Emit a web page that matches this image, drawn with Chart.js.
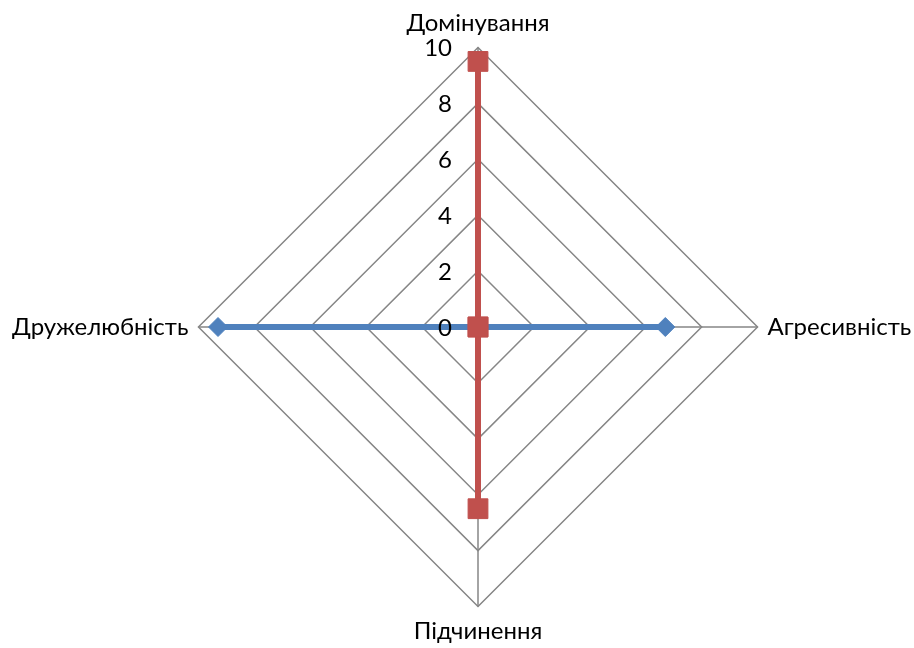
<!DOCTYPE html>
<html>
<head>
<meta charset="utf-8">
<script src="https://cdn.jsdelivr.net/npm/chart.js@4"></script>
<style>
  html, body { margin: 0; padding: 0; background: #ffffff; }
  #wrap { width: 914px; height: 648px; position: relative; overflow: hidden; }
  /* canvas a bit wider than the page so the radar fills it like the original */
  #chart { position: absolute; left: -4px; top: 3px; }
</style>
</head>
<body>
<div id="wrap"><canvas id="chart" width="932" height="648"></canvas></div>
<script>
const axisLabels = ['Домінування', 'Агресивність', 'Підчинення', 'Дружелюбність'];
const blueValues = [0, 6.7, 0, 9.3];
const redValues = [9.5, 0, 6.5, 0];
const tickValues = [0, 2, 4, 6, 8, 10];

const FONT = 'Lato, "Open Sans", sans-serif';

// tick labels sit left of the vertical axis, like the original
const sideTicks = {
  id: 'sideTicks',
  afterDatasetsDraw(chart) {
    const scale = chart.scales.r;
    const ctx = chart.ctx;
    ctx.save();
    ctx.font = `24px ${FONT}`;
    ctx.fillStyle = '#000000';
    ctx.textAlign = 'right';
    ctx.textBaseline = 'middle';
    tickValues.forEach((value) => {
      const y = scale.yCenter - scale.getDistanceFromCenterForValue(value);
      ctx.fillText(String(value), scale.xCenter - 26, y + 1);
    });
    ctx.restore();
  }
};

new Chart(document.getElementById('chart'), {
  type: 'radar',
  data: {
    labels: axisLabels,
    datasets: [
      {
        label: 'Ряд1',
        data: blueValues,
        borderColor: '#4F81BD',
        backgroundColor: '#4F81BD',
        borderWidth: 6,
        fill: false,
        pointStyle: 'rectRot',
        pointRadius: 9.5,
        pointBorderWidth: 1,
        pointBorderColor: '#4F81BD',
        pointBackgroundColor: '#4F81BD',
        order: 2
      },
      {
        label: 'Ряд2',
        data: redValues,
        borderColor: '#C0504D',
        backgroundColor: '#C0504D',
        borderWidth: 6,
        fill: false,
        pointStyle: 'rect',
        pointRadius: 14,
        pointBorderWidth: 1,
        pointBorderColor: '#C0504D',
        pointBackgroundColor: '#C0504D',
        order: 1
      }
    ]
  },
  options: {
    responsive: false,
    animation: false,
    plugins: { legend: { display: false }, tooltip: { enabled: false } },
    elements: { line: { tension: 0 } },
    scales: {
      r: {
        min: 0,
        max: 10,
        ticks: { stepSize: 2, display: false },
        grid: { color: '#868686', lineWidth: 1.5, circular: false },
        angleLines: { color: '#868686', lineWidth: 1.5 },
        pointLabels: {
          color: '#000000',
          padding: 10,
          font: { family: FONT, size: 24 }
        }
      }
    }
  },
  plugins: [sideTicks]
});
</script>
</body>
</html>
